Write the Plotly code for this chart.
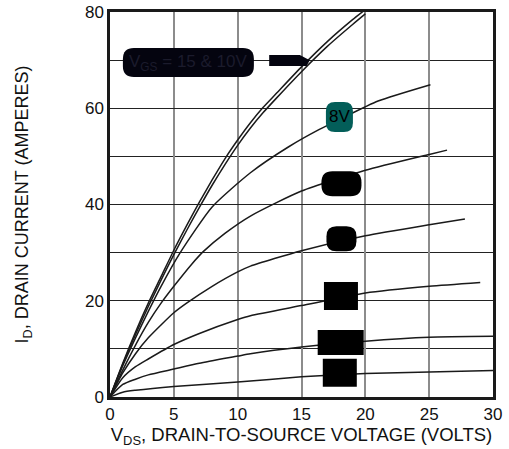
import plotly.graph_objects as go

# drain-source voltage (V) and drain current (A), one curve per gate voltage
vgs15_x = [0, 1, 2, 3, 4, 5, 6, 7, 8, 9, 10, 11, 12, 13, 15, 17, 19, 20]
vgs15_y = [0, 7, 13.5, 19.5, 25, 30.5, 35.6, 40.5, 45.1, 49.5, 53.4, 57, 60.2, 63, 68.6, 73.8, 78.4, 80.5]
vgs10_x = [0, 1, 2, 3, 4, 5, 6, 7, 8, 9, 10, 11, 12, 13, 15, 17, 19, 20]
vgs10_y = [0, 6.8, 13, 18.8, 24.3, 29.6, 34.6, 39.4, 44, 48.3, 52.3, 55.9, 59.1, 62, 67.6, 72.8, 77.4, 79.6]
vgs8_x = [0, 1, 2, 3, 4, 5.5, 8, 11, 14, 16.4, 18, 21, 25.1]
vgs8_y = [0, 6.5, 12.3, 17.8, 23, 30, 39.5, 46.6, 52, 55.6, 57.7, 61.5, 64.9]
vgs7_x = [0, 1, 2, 3, 4, 5, 6.4, 7.3, 9, 11, 15, 20, 25, 26.4]
vgs7_y = [0, 5.6, 10.8, 15.5, 19.5, 23, 27.6, 30.2, 34, 37.6, 42.8, 47.1, 50.4, 51.3]
vgs6_x = [0, 1, 2, 3, 5, 6, 8, 10, 11, 15, 20, 25, 27.8]
vgs6_y = [0, 5, 9, 12.3, 17.5, 19.5, 23, 26, 27.2, 30.4, 33.5, 35.8, 37]
vgs5_x = [0, 1, 2, 3, 5, 7, 10, 11, 15, 20, 25, 29]
vgs5_y = [0, 4, 6.3, 7.9, 10.9, 13.2, 16.1, 16.9, 19, 21.6, 23, 23.8]
vgs4_x = [0, 1, 2, 3, 5, 7, 10, 11, 15, 20, 25, 30]
vgs4_y = [0, 2.6, 3.7, 4.6, 5.8, 7, 8.5, 9.0, 10.4, 11.6, 12.4, 12.6]
vgs3_x = [0, 1, 2, 5, 10, 15, 20, 25, 30]
vgs3_y = [0, 1.0, 1.4, 2.2, 3.1, 4.2, 4.9, 5.2, 5.5]

x_ticks = [0, 5, 10, 15, 20, 25, 30]
y_ticks = [0, 20, 40, 60, 80]

curves = [
    (vgs15_x, vgs15_y), (vgs10_x, vgs10_y), (vgs8_x, vgs8_y), (vgs7_x, vgs7_y),
    (vgs6_x, vgs6_y), (vgs5_x, vgs5_y), (vgs4_x, vgs4_y), (vgs3_x, vgs3_y),
]

FONT = "Liberation Sans, Arial, sans-serif"

fig = go.Figure()
for xs, ys in curves:
    fig.add_trace(go.Scatter(x=xs, y=ys, mode="lines", line=dict(color="#1a1a1a", width=1.5, shape="spline", smoothing=0.6),
                             showlegend=False, hoverinfo="skip"))


def rounded_box(x, y, w, h, r, color):
    a, b = w / 2, h / 2
    if r == 0:
        path = f"M {-a},{-b} L {a},{-b} L {a},{b} L {-a},{b} Z"
    else:
        path = (f"M {-a + r},{-b} L {a - r},{-b} Q {a},{-b} {a},{-b + r} L {a},{b - r} Q {a},{b} {a - r},{b} "
                f"L {-a + r},{b} Q {-a},{b} {-a},{b - r} L {-a},{-b + r} Q {-a},{-b} {-a + r},{-b} Z")
    return dict(type="path", xref="x", yref="y", xsizemode="pixel", ysizemode="pixel", xanchor=x, yanchor=y,
                path=path, fillcolor=color, line=dict(width=0), layer="above")


shapes = [
    dict(type="line", xref="x", yref="paper", x0=v, x1=v, y0=0, y1=1, line=dict(color="#222222", width=1.3), layer="below")
    for v in [20, 25]
]
shapes += [
    rounded_box(6.14, 69.5, 131, 29, 11, "#04040f"),
    dict(type="path", xref="x", yref="y", path="M 12.47,71.04 L 14.87,71.04 L 15.65,70 L 15.4,68.8 L 12.47,68.8 Z",
         fillcolor="#04040f", line=dict(width=0), layer="above"),
    rounded_box(17.97, 58.2, 27, 30, 9, "#035e59"),
    rounded_box(18.13, 44.3, 40, 25, 11, "#000000"),
    rounded_box(18.13, 32.9, 30, 25, 10, "#000000"),
    rounded_box(18.09, 21.0, 34, 28, 0, "#000000"),
    rounded_box(18.07, 11.35, 46, 25, 0, "#000000"),
    rounded_box(18.0, 5.04, 34, 28, 0, "#000000"),
]

annotations = [
    dict(x=6.14, y=69.5, text="V<sub>GS</sub> = 15 & 10V", showarrow=False, font=dict(family=FONT, size=17, color="#1b1b2c")),
    dict(x=17.97, y=58.2, text="8V", showarrow=False, font=dict(family=FONT, size=17, color="#000000")),
    dict(x=18.13, y=44.3, text="7V", showarrow=False, font=dict(family=FONT, size=15, color="#000000")),
    dict(x=18.13, y=32.9, text="6V", showarrow=False, font=dict(family=FONT, size=15, color="#000000")),
    dict(x=18.09, y=21.0, text="5V", showarrow=False, font=dict(family=FONT, size=15, color="#000000")),
    dict(x=18.07, y=11.35, text="4V", showarrow=False, font=dict(family=FONT, size=15, color="#000000")),
    dict(x=18.0, y=5.04, text="3V", showarrow=False, font=dict(family=FONT, size=15, color="#000000")),
]

fig.update_layout(
    width=509, height=449,
    margin=dict(l=110, r=16, t=12, b=52),
    paper_bgcolor="white", plot_bgcolor="white",
    font=dict(family=FONT, size=16, color="#111111"),
    shapes=shapes, annotations=annotations,
)
fig.update_xaxes(
    range=[0, 30], tickvals=x_ticks, showgrid=True, gridcolor="#8c8c8c", gridwidth=2,
    showline=True, linecolor="#1a1a1a", linewidth=2.5, mirror=True, ticks="", zeroline=False, automargin=False,
    tickfont=dict(size=17), ticklabeloverflow="allow",
    title=dict(text="V<sub>DS</sub>, DRAIN-TO-SOURCE VOLTAGE (VOLTS)", font=dict(size=18.5), standoff=2),
)
fig.update_yaxes(
    range=[0, 80], tickvals=y_ticks, showgrid=True, gridcolor="#222222", gridwidth=1.3,
    minor=dict(dtick=10, showgrid=True, gridcolor="#222222", gridwidth=1.3),
    showline=True, linecolor="#1a1a1a", linewidth=2.5, mirror=True, ticks="", zeroline=False, automargin=False,
    tickfont=dict(size=17), ticklabeloverflow="allow",
    title=dict(text="I<sub>D</sub>, DRAIN CURRENT (AMPERES)", font=dict(size=18), standoff=52),
)

# drop the page's default body margin so the figure sits flush in the window
fig.write_html("out.html", config={"displayModeBar": False}, post_script="document.body.style.margin = '0';")
